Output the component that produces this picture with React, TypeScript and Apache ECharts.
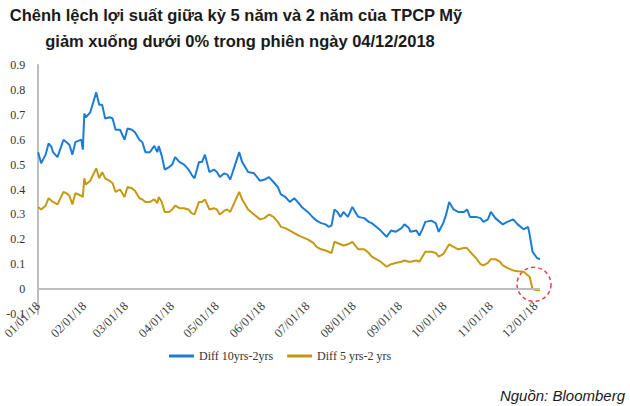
import React, { useEffect, useRef } from "react";
import * as echarts from "echarts";

const titleLines = [
  "Chênh lệch lợi suất giữa kỳ 5 năm và 2 năm của TPCP Mỹ",
  "giảm xuống dưới 0% trong phiên ngày 04/12/2018",
];
const sourceText = "Nguồn: Bloomberg";
const seriesNames = ["Diff 10yrs-2yrs", "Diff 5 yrs-2 yrs"];

const monthTicks = [
  "2018-01-01", "2018-02-01", "2018-03-01", "2018-04-01", "2018-05-01", "2018-06-01",
  "2018-07-01", "2018-08-01", "2018-09-01", "2018-10-01", "2018-11-01", "2018-12-01",
];
const xRange = ["2018-01-01", "2018-12-04"];

const dates = [
  "2018-01-01", "2018-01-03", "2018-01-06", "2018-01-08", "2018-01-10", "2018-01-11",
  "2018-01-14", "2018-01-18", "2018-01-20", "2018-01-22", "2018-01-24", "2018-01-26",
  "2018-01-30", "2018-01-31", "2018-02-01", "2018-02-02", "2018-02-05", "2018-02-09",
  "2018-02-11", "2018-02-13", "2018-02-15", "2018-02-18", "2018-02-20", "2018-02-22",
  "2018-02-25", "2018-02-28", "2018-03-02", "2018-03-05", "2018-03-07", "2018-03-10",
  "2018-03-12", "2018-03-14", "2018-03-17", "2018-03-20", "2018-03-22", "2018-03-23",
  "2018-03-25", "2018-03-27", "2018-03-30", "2018-04-01", "2018-04-03", "2018-04-06",
  "2018-04-09", "2018-04-12", "2018-04-14", "2018-04-16", "2018-04-19", "2018-04-21",
  "2018-04-23", "2018-04-26", "2018-04-29", "2018-05-01", "2018-05-03", "2018-05-06",
  "2018-05-08", "2018-05-10", "2018-05-13", "2018-05-16", "2018-05-18", "2018-05-19",
  "2018-05-22", "2018-05-26", "2018-05-30", "2018-06-02", "2018-06-05", "2018-06-08",
  "2018-06-11", "2018-06-13", "2018-06-16", "2018-06-19", "2018-06-22", "2018-06-25",
  "2018-06-27", "2018-06-29", "2018-07-01", "2018-07-05", "2018-07-07", "2018-07-10",
  "2018-07-13", "2018-07-15", "2018-07-17", "2018-07-19", "2018-07-21", "2018-07-23",
  "2018-07-25", "2018-07-28", "2018-07-31", "2018-08-04", "2018-08-08", "2018-08-11",
  "2018-08-13", "2018-08-16", "2018-08-19", "2018-08-23", "2018-08-26", "2018-08-29",
  "2018-09-02", "2018-09-04", "2018-09-07", "2018-09-08", "2018-09-12", "2018-09-14",
  "2018-09-16", "2018-09-18", "2018-09-22", "2018-09-25", "2018-09-27", "2018-09-30",
  "2018-10-02", "2018-10-04", "2018-10-07", "2018-10-10", "2018-10-14", "2018-10-16",
  "2018-10-18", "2018-10-22", "2018-10-25", "2018-10-27", "2018-10-30", "2018-11-01",
  "2018-11-04", "2018-11-07", "2018-11-09", "2018-11-12", "2018-11-16", "2018-11-19",
  "2018-11-23", "2018-11-26", "2018-11-27", "2018-11-29", "2018-12-02", "2018-12-04",
];

const diff10y2y = [
  0.55, 0.505, 0.54, 0.585, 0.57, 0.55,
  0.53, 0.6, 0.59, 0.58, 0.54, 0.59,
  0.6, 0.56, 0.705, 0.69, 0.71, 0.79,
  0.74, 0.74, 0.685, 0.69, 0.685, 0.64,
  0.64, 0.6, 0.645, 0.64, 0.63, 0.6,
  0.59, 0.55, 0.55, 0.575, 0.55, 0.575,
  0.535, 0.48, 0.49, 0.5, 0.53, 0.51,
  0.5, 0.48, 0.46, 0.445, 0.51, 0.51,
  0.54, 0.47, 0.48, 0.47, 0.45, 0.465,
  0.46, 0.44, 0.495, 0.55, 0.51, 0.5,
  0.47, 0.465, 0.435, 0.44, 0.45, 0.43,
  0.41, 0.38, 0.37, 0.35, 0.365, 0.345,
  0.33, 0.32, 0.31, 0.285, 0.275, 0.265,
  0.26, 0.25, 0.255, 0.32, 0.31, 0.29,
  0.31, 0.29, 0.33, 0.29, 0.285, 0.27,
  0.265, 0.25, 0.235, 0.21, 0.235, 0.23,
  0.245, 0.26, 0.245, 0.23, 0.235, 0.215,
  0.24, 0.27, 0.275, 0.265, 0.23, 0.265,
  0.3, 0.35, 0.32, 0.31, 0.31, 0.32,
  0.29, 0.29, 0.285, 0.27, 0.28, 0.31,
  0.285, 0.27, 0.26, 0.27, 0.28, 0.26,
  0.24, 0.25, 0.22, 0.15, 0.125, 0.12,
];

const diff5y2y = [
  0.33, 0.32, 0.335, 0.365, 0.355, 0.35,
  0.34, 0.39, 0.385, 0.375, 0.34, 0.385,
  0.375, 0.37, 0.445, 0.42, 0.435, 0.485,
  0.445, 0.47, 0.445, 0.435, 0.425, 0.39,
  0.4, 0.37, 0.41, 0.405, 0.395, 0.365,
  0.36, 0.35, 0.35, 0.36, 0.345, 0.37,
  0.35, 0.31, 0.31, 0.32, 0.335, 0.325,
  0.325, 0.32, 0.305, 0.3, 0.35, 0.35,
  0.36, 0.32, 0.325, 0.32, 0.3, 0.315,
  0.32, 0.31, 0.35, 0.39, 0.36, 0.35,
  0.32, 0.3, 0.28, 0.285, 0.3, 0.29,
  0.27, 0.25, 0.245, 0.235, 0.225, 0.215,
  0.21, 0.205, 0.2, 0.185, 0.17, 0.16,
  0.155, 0.15, 0.145, 0.19, 0.185, 0.18,
  0.175, 0.18, 0.19, 0.16, 0.16, 0.145,
  0.13, 0.12, 0.11, 0.09, 0.1, 0.105,
  0.11, 0.115, 0.11, 0.11, 0.115, 0.11,
  0.13, 0.15, 0.15, 0.145, 0.13, 0.14,
  0.16, 0.18, 0.17, 0.16, 0.165, 0.165,
  0.15, 0.125, 0.1, 0.095, 0.105, 0.12,
  0.12, 0.11, 0.095, 0.085, 0.075, 0.072,
  0.07, 0.055, 0.05, 0.0, -0.005, -0.005,
];

const colors = ["#1C7CD5", "#C59A12"];

const pad = (n: number) => (n < 10 ? "0" + n : "" + n);
const toTs = (s: string) => {
  const [y, m, d] = s.split("-").map(Number);
  return new Date(y, m - 1, d).getTime();
};

export default function App() {
  const ref = useRef<HTMLDivElement>(null);
  useEffect(() => {
    if (!ref.current) return;
    const chart = echarts.init(ref.current, null, { renderer: "svg" });
    const tickValues = monthTicks.map(toTs);
    const serif = "'Liberation Serif', 'Times New Roman', serif";
    const sans = "'Liberation Sans', Arial, sans-serif";
    chart.setOption({
      animation: false,
      backgroundColor: "#ffffff",
      color: colors,
      grid: { left: 35, right: 90, top: 65, bottom: 92 },
      legend: {
        left: 164,
        top: 345,
        icon: "rect",
        itemWidth: 25,
        itemHeight: 3,
        itemGap: 14,
        textStyle: { fontFamily: serif, fontSize: 12, color: "#333" },
        data: seriesNames,
      },
      xAxis: {
        type: "value",
        min: toTs(xRange[0]),
        max: toTs(xRange[1]),
        axisLine: { show: false, onZero: false },
        axisTick: { show: false },
        splitLine: { show: false },
        axisLabel: {
          customValues: tickValues,
          rotate: 45,
          margin: -10,
          fontFamily: serif,
          fontSize: 12.5,
          color: "#404040",
          hideOverlap: false,
          showMinLabel: true,
          showMaxLabel: true,
          formatter: (v: number) => {
            const d = new Date(v);
            return pad(d.getMonth() + 1) + "/" + pad(d.getDate()) + "/" + pad(d.getFullYear() % 100);
          },
        },
      },
      yAxis: {
        type: "value",
        min: -0.1,
        max: 0.9,
        interval: 0.1,
        splitLine: { show: false },
        axisTick: { show: false },
        axisLine: { show: true, onZero: false, lineStyle: { color: "#bdbdbd", width: 2 } },
        axisLabel: { fontFamily: serif, fontSize: 12, color: "#333", margin: 13 },
      },
      series: [
        {
          name: seriesNames[0],
          type: "line",
          showSymbol: false,
          lineStyle: { width: 2 },
          data: dates.map((d, i) => [toTs(d), diff10y2y[i]]),
          markLine: {
            silent: true,
            symbol: "none",
            label: { show: false },
            lineStyle: { color: "#bdbdbd", width: 2, type: "solid" },
            data: [{ yAxis: 0 }],
          },
          z: 3,
        },
        {
          name: seriesNames[1],
          type: "line",
          showSymbol: false,
          lineStyle: { width: 2 },
          data: dates.map((d, i) => [toTs(d), diff5y2y[i]]),
          z: 4,
        },
      ],
      graphic: [
        {
          id: "t1",
          type: "text",
          x: 236,
          y: 15,
          style: {
            text: titleLines[0],
            textAlign: "center",
            textVerticalAlign: "middle",
            font: "bold 16.5px " + sans,
            fill: "#1a1a1a",
          },
        },
        {
          id: "t2",
          type: "text",
          x: 240,
          y: 41,
          style: {
            text: titleLines[1],
            textAlign: "center",
            textVerticalAlign: "middle",
            font: "bold 16.5px " + sans,
            fill: "#1a1a1a",
          },
        },
        {
          id: "src",
          type: "text",
          x: 625,
          y: 395,
          style: {
            text: sourceText,
            textAlign: "right",
            textVerticalAlign: "middle",
            font: "italic 15px " + sans,
            fill: "#1a1a1a",
          },
        },
      ],
    });
    const last = dates.length - 1;
    const c = chart.convertToPixel({ gridIndex: 0 }, [toTs(dates[last - 1]), diff5y2y[last]]) as number[];
    if (c && isFinite(c[0])) {
      chart.setOption({
        graphic: [
          {
            id: "ring",
            type: "circle",
            shape: { cx: c[0] - 3, cy: c[1] - 6, r: 17 },
            style: { fill: "none", stroke: "#e0454a", lineWidth: 1.5, lineDash: [4, 3] },
          },
        ],
      });
    }
    return () => chart.dispose();
  }, []);
  return (
    <div
      ref={ref}
      style={{ position: "fixed", left: 0, top: 0, width: 630, height: 406 }}
    />
  );
}
